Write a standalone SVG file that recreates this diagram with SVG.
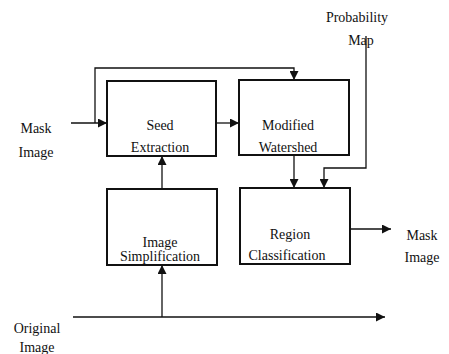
<svg xmlns="http://www.w3.org/2000/svg" width="449" height="354" viewBox="0 0 449 354">
<defs>
<marker id="ah" viewBox="0 0 10 10" refX="10" refY="5" markerWidth="9" markerHeight="9" markerUnits="userSpaceOnUse" orient="auto">
<path d="M0,0 L10,5 L0,10 z" fill="#111"/>
</marker>
</defs>
<style>
.box{fill:#fff;stroke:#111;stroke-width:2}
.c{fill:none;stroke:#111;stroke-width:1.3}
.t{font-family:'Liberation Serif','Times New Roman',serif;font-size:14px;fill:#111;text-anchor:middle}
</style>
<rect width="449" height="354" fill="#fff"/>
<g id="connectors">
<path class="c" d="M71,123 H107" marker-end="url(#ah)"/>
<path class="c" d="M95,123 V68 H294 V80" marker-end="url(#ah)"/>
<path class="c" d="M216,123 H239" marker-end="url(#ah)"/>
<path class="c" d="M162,189 V156" marker-end="url(#ah)"/>
<path class="c" d="M73,317 H385" marker-end="url(#ah)"/>
<path class="c" d="M162,317 V265" marker-end="url(#ah)"/>
<path class="c" d="M294,155 V188" marker-end="url(#ah)"/>
<path class="c" d="M366,36 V168 H324 V188" marker-end="url(#ah)"/>
<path class="c" d="M350,229 H391" marker-end="url(#ah)"/>
</g>
<g class="t" font-family="Liberation Serif, serif" font-size="14">
<g id="seed"><rect class="box" x="107" y="81" width="109" height="75"/><text class="t" x="160" y="130">Seed</text><text class="t" x="160" y="152">Extraction</text></g>
<g id="watershed"><rect class="box" x="239" y="80" width="110" height="75"/><text class="t" x="288" y="130">Modified</text><text class="t" x="288" y="152">Watershed</text></g>
<g id="simplification"><rect class="box" x="107" y="189" width="110" height="76"/><text class="t" x="160" y="247">Image</text><text class="t" x="160" y="261">Simplification</text></g>
<g id="region"><rect class="box" x="240" y="188" width="110" height="76"/><text class="t" x="290" y="239">Region</text><text class="t" x="287" y="260">Classification</text></g>
<g id="mask-in"><text class="t" x="36" y="133">Mask</text><text class="t" x="36" y="157">Image</text></g>
<g id="prob"><text class="t" x="357" y="22">Probability</text><text class="t" x="361" y="45">Map</text></g>
<g id="mask-out"><text class="t" x="422" y="240">Mask</text><text class="t" x="422" y="262">Image</text></g>
<g id="original"><text class="t" x="37" y="333">Original</text><text class="t" x="37" y="352">Image</text></g>
</g>
</svg>
